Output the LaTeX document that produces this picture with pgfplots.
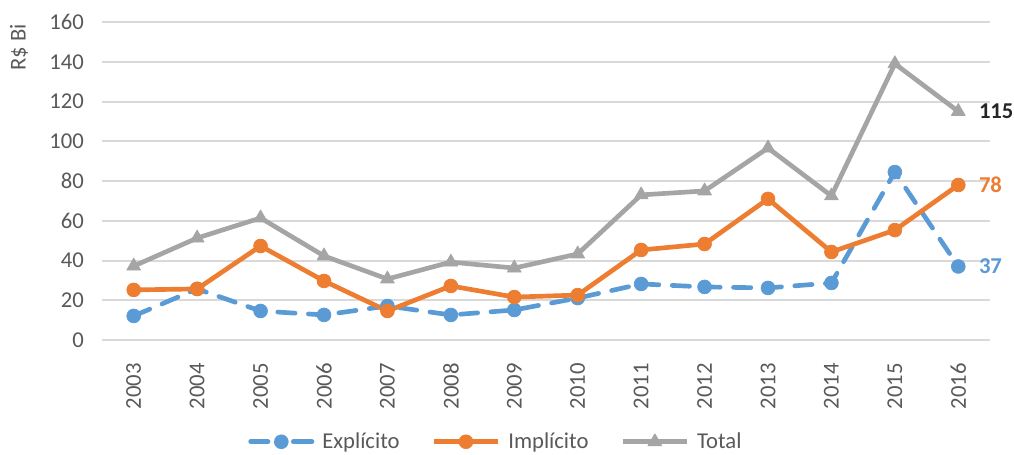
\documentclass[border=0pt]{standalone}
\usepackage{fontspec}
\setmainfont{Carlito}
\usepackage{pgfplots}
\pgfplotsset{compat=1.18}
\definecolor{cblue}{HTML}{5B9BD5}
\definecolor{corange}{HTML}{ED7D31}
\definecolor{cgray}{HTML}{A5A5A5}
\definecolor{ctext}{HTML}{595959}
\definecolor{cgrid}{HTML}{D9D9D9}
\begin{document}
\begin{tikzpicture}
\path[use as bounding box] (-76.5pt,-85.5pt) rectangle (684pt,255pt);
\begin{axis}[
  scale only axis,
  width=666pt, height=238.5pt,
  at={(0,0)}, anchor=south west,
  xmin=-0.5, xmax=13.5,
  ymin=0, ymax=160,
  ytick={0,20,...,160},
  xtick={0,...,13},
  xticklabels={2003,2004,2005,2006,2007,2008,2009,2010,2011,2012,2013,2014,2015,2016},
  axis line style={draw=none},
  ymajorgrids,
  grid style={cgrid, line width=1.5pt},
  major tick length=0pt,
  tick label style={font=\fontsize{17}{20}\selectfont, text=ctext},
  /pgf/number format/assume math mode=true,
  xticklabel style={rotate=90, anchor=east, xshift=-14pt, yshift=0pt},
  yticklabel style={xshift=-10pt},
  ylabel={R\$ Bi},
  ylabel style={at={(axis description cs:-0.0935,0.92)}, anchor=center, font=\fontsize{17}{20}\selectfont, text=ctext},
  clip=false,
  legend columns=3,
  legend style={draw=none, at={(axis description cs:0.444,-0.32)}, anchor=center, font=\fontsize{17}{20}\selectfont, text=ctext,
    /tikz/every odd column/.append style={column sep=4pt},
    /tikz/every even column/.append style={column sep=22pt}},
  legend image code/.code={\draw[mark repeat=2,mark phase=2] plot coordinates {(0pt,0pt) (24pt,0pt) (48pt,0pt)};},
]
\addplot[cblue, line width=3.5pt, dash pattern=on 13pt off 10pt, line cap=round, mark=*, mark size=5.2pt, mark options={solid, fill=cblue, draw=cblue, line width=0.5pt},
  legend image code/.code={\draw[solid,line cap=round] (1pt,0pt)--(14pt,0pt) (33pt,0pt)--(47pt,0pt); \path plot coordinates {(24pt,0pt)};}] coordinates {
(0,12.1) (1,25.7) (2,14.6) (3,12.6) (4,17.1) (5,12.6) (6,15.1) (7,21.1) (8,28.2) (9,26.7) (10,26.2) (11,28.7) (12,84.5) (13,37)};
\addlegendentry{Explícito}
\addplot[corange, line width=3.5pt, line join=round, mark=*, mark size=5.2pt, mark options={fill=corange, draw=corange, line width=0.5pt}] coordinates {
(0,25.2) (1,25.7) (2,47.3) (3,29.7) (4,14.6) (5,27.2) (6,21.6) (7,22.6) (8,45.3) (9,48.3) (10,71) (11,44.3) (12,55.3) (13,78)};
\addlegendentry{Implícito}
\addplot[cgray, line width=3.5pt, line join=round, mark=triangle*, mark size=6pt, mark options={fill=cgray, draw=cgray, line width=0.5pt}] coordinates {
(0,37.2) (1,51.3) (2,61.4) (3,42.3) (4,30.7) (5,39.2) (6,36.2) (7,43.3) (8,73) (9,75) (10,96.6) (11,72.5) (12,139) (13,115)};
\addlegendentry{Total}
\node[anchor=west, font=\fontsize{17}{20}\selectfont\bfseries, text=black!85, xshift=12pt] at (axis cs:13,115) {115};
\node[anchor=west, font=\fontsize{17}{20}\selectfont\bfseries, text=corange, xshift=12pt] at (axis cs:13,78) {78};
\node[anchor=west, font=\fontsize{17}{20}\selectfont\bfseries, text=cblue, xshift=12pt] at (axis cs:13,37) {37};
\end{axis}
\end{tikzpicture}
\end{document}
